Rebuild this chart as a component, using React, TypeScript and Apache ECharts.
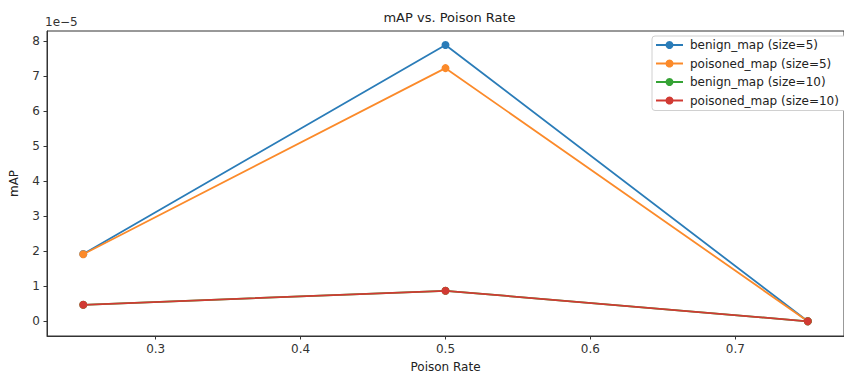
import React, { useEffect, useRef } from "react";
import * as echarts from "echarts";

const poisonRates = [0.25, 0.5, 0.75];
const benignMap5 = [1.92e-5, 7.88e-5, 0.0];
const poisonedMap5 = [1.91e-5, 7.22e-5, 0.0];
const benignMap10 = [0.47e-5, 0.87e-5, 0.0];
const poisonedMap10 = [0.47e-5, 0.87e-5, 0.0];
const seriesNames = [
  "benign_map (size=5)",
  "poisoned_map (size=5)",
  "benign_map (size=10)",
  "poisoned_map (size=10)",
];
const seriesColors = ["#2a7cb8", "#fb8a2a", "#35a335", "#d13a33"];
const xTicks = [0.3, 0.4, 0.5, 0.6, 0.7];
const yTicks = [0, 1, 2, 3, 4, 5, 6, 7, 8];
const yScale = 1e-5;

const FONT = "DejaVu Sans";

export default function App() {
  const ref = useRef<HTMLDivElement>(null);
  useEffect(() => {
    if (!ref.current) return;
    const chart = echarts.init(ref.current, undefined, { renderer: "svg" });
    const allSeries = [benignMap5, poisonedMap5, benignMap10, poisonedMap10];
    chart.setOption({
      animation: false,
      backgroundColor: "#ffffff",
      textStyle: { fontFamily: FONT },
      grid: {
        left: 45,
        top: 31,
        right: -10,
        bottom: 40,
        show: true,
        borderColor: "#333",
        borderWidth: 1,
        backgroundColor: "transparent",
      },
      graphic: [
        {
          type: "text",
          x: 449.5,
          y: 17,
          style: {
            text: "mAP vs. Poison Rate",
            fontFamily: FONT,
            fontSize: 13,
            fill: "#222",
            textAlign: "center",
            textVerticalAlign: "middle",
          },
        },
        {
          type: "text",
          x: 45,
          y: 22,
          style: {
            text: "1e\u22125",
            fontFamily: FONT,
            fontSize: 12,
            fill: "#333",
            textAlign: "left",
            textVerticalAlign: "middle",
          },
        },
      ],
      legend: {
        orient: "vertical",
        left: 652,
        top: 36,
        data: seriesNames,
        backgroundColor: "#fff",
        borderColor: "#d0d0d0",
        borderWidth: 1,
        borderRadius: 3,
        padding: [3, 8, 4, 3],
        itemGap: 6.5,
        itemWidth: 27,
        itemHeight: 10,
        textStyle: { fontFamily: FONT, fontSize: 12, color: "#222", padding: [0, 0, 0, 2] },
      },
      xAxis: {
        type: "value",
        min: 0.225,
        max: 0.775,
        name: "Poison Rate",
        nameLocation: "middle",
        nameGap: 25,
        nameTextStyle: { fontFamily: FONT, fontSize: 12, color: "#222" },
        axisLine: { show: true, onZero: false, lineStyle: { color: "#333", width: 1 } },
        axisTick: {
          show: true,
          length: 3.5,
          lineStyle: { color: "#333" },
          customValues: xTicks,
        },
        axisLabel: {
          fontFamily: FONT,
          fontSize: 12,
          color: "#333",
          margin: 7,
          customValues: xTicks,
          formatter: (v: number) => v.toFixed(1),
        },
        splitLine: { show: false },
      },
      yAxis: {
        type: "value",
        min: -0.42 * yScale,
        max: 8.28 * yScale,
        name: "mAP",
        nameLocation: "middle",
        nameGap: 27,
        nameRotate: 90,
        nameTextStyle: { fontFamily: FONT, fontSize: 12, color: "#222" },
        axisLine: { show: true, onZero: false, lineStyle: { color: "#333", width: 1 } },
        axisTick: {
          show: true,
          length: 3.5,
          lineStyle: { color: "#333" },
          customValues: yTicks.map((t) => t * yScale),
        },
        axisLabel: {
          fontFamily: FONT,
          fontSize: 12,
          color: "#333",
          margin: 7,
          customValues: yTicks.map((t) => t * yScale),
          formatter: (v: number) => String(Math.round(v / yScale)),
        },
        splitLine: { show: false },
      },
      series: allSeries.map((vals, i) => ({
        name: seriesNames[i],
        type: "line",
        data: poisonRates.map((x, j) => [x, vals[j]]),
        symbol: "circle",
        symbolSize: 8,
        color: seriesColors[i],
        lineStyle: { width: 1.8, color: seriesColors[i] },
        itemStyle: { color: seriesColors[i] },
        z: 2 + i,
      })),
    });
    return () => chart.dispose();
  }, []);
  return (
    <div
      ref={ref}
      style={{ position: "absolute", left: 0, top: 0, width: 844, height: 378 }}
    />
  );
}
